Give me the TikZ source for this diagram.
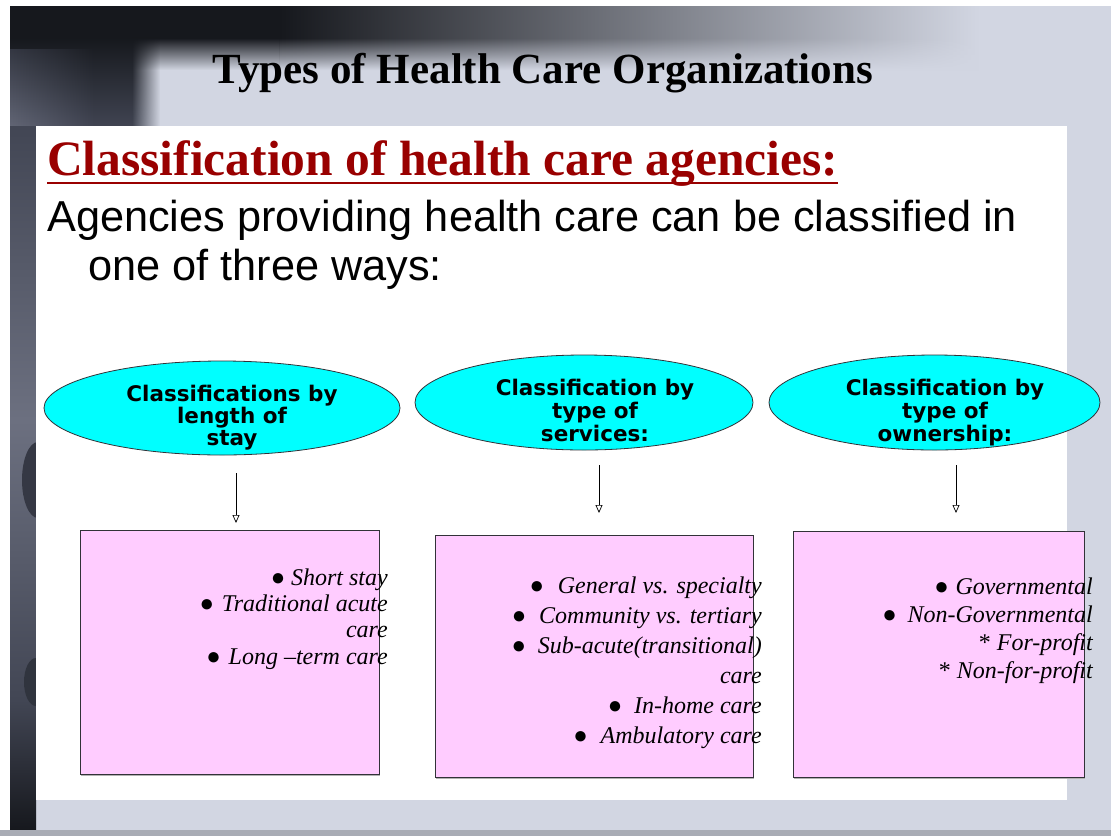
\documentclass[tikz,border=0pt]{standalone}
\usepackage{fontspec}
\setmainfont{Liberation Serif}
\newfontfamily\arialfont{Liberation Sans}
\newfontfamily\verdfont{DejaVu Sans}
\usetikzlibrary{shapes.geometric,arrows.meta,fadings}

\definecolor{slidebg}{RGB}{210,214,226}
\definecolor{darkband}{RGB}{22,24,29}
\definecolor{darkgray2}{RGB}{66,70,84}
\definecolor{stripgray}{RGB}{108,112,128}
\definecolor{bottomband}{RGB}{169,172,181}
\definecolor{headred}{RGB}{153,0,0}
\definecolor{ovalfill}{RGB}{0,255,255}
\definecolor{boxfill}{RGB}{255,204,255}
\definecolor{edgegray}{RGB}{50,50,56}

% soft edges for the blurred backdrop
\tikzfading[name=softdown, top color=transparent!0, bottom color=transparent!100]
\tikzfading[name=softright, left color=transparent!0, right color=transparent!100]

% bullet centred on the current point, followed by a gap of #1
\newcommand\bulgap[1]{\makebox[0pt][c]{\upshape ●}\hspace{#1}}

\tikzset{
  oval/.style={ellipse, draw=edgegray, line width=0.8pt, fill=ovalfill, inner sep=0pt},
  ovaltext/.style={inner sep=0pt, align=center, text=black, anchor=base},
  listbox/.style={draw=edgegray, line width=1pt, fill=boxfill},
  listtext/.style={inner sep=0pt, align=right, anchor=base east},
  downarrow/.style={line width=0.7pt, -{Triangle[open,length=8pt,width=7pt]}},
}

\begin{document}
\begin{tikzpicture}[x=1pt,y=-1pt]
\useasboundingbox (0,0) rectangle (1111,836);

% slide background
\fill[slidebg] (0,0) rectangle (1111,836);
\fill[white] (0,0) rectangle (1111,6);
\fill[white] (0,0) rectangle (10,836);
% dark top band fading to the right, with a soft lower edge
\fill[darkband] (10,6) rectangle (280,38);
\shade[left color=darkband, right color=slidebg] (280,6) rectangle (980,38);
\fill[darkband, path fading=softdown] (130,38) rectangle (280,70);
\shade[left color=darkband, right color=slidebg, path fading=softdown] (280,38) rectangle (980,70);
% dark corner block with a soft right edge
\shade[top color=darkband, bottom color=darkgray2] (10,38) rectangle (132,130);
\shade[top color=darkband, bottom color=darkgray2, path fading=softright] (132,38) rectangle (160,130);
\shade[top color=darkgray2!70!darkband, bottom color=stripgray!80!darkgray2, path fading=softright] (10,50) rectangle (95,130);
% left strip
\shade[top color=darkgray2, bottom color=stripgray] (10,126) rectangle (36,420);
\shade[top color=stripgray, bottom color=darkgray2] (10,420) rectangle (36,700);
\shade[top color=darkgray2, bottom color=darkband] (10,700) rectangle (36,830);
\fill[darkgray2!70!darkband] (38,480) ellipse [x radius=16, y radius=38];
\fill[darkgray2!60!darkband] (36,682) ellipse [x radius=12, y radius=24];
% bottom band
\fill[bottomband] (0,830) rectangle (1111,836);

% white content panel
\fill[white] (36,126) rectangle (1067,800);

% title
\node[anchor=base, inner sep=0pt, font=\bfseries\fontsize{43}{50}\selectfont]
  (title) at (543,83) {Types of Health Care Organizations};

% heading with underline
\node[anchor=base west, inner sep=0pt, text=headred,
      font=\bfseries\fontsize{49.5}{56}\selectfont]
  (head) at (47,175) {Classification of health care agencies:};
\draw[headred, line width=2.6pt] ([yshift=-8pt]head.base west) -- ([yshift=-8pt]head.base east);

% intro text
\node[anchor=base west, inner sep=0pt, font=\arialfont\fontsize{43.3}{48}\selectfont]
  (intro1) at (47,231) {Agencies providing health care can be classified in};
\node[anchor=base west, inner sep=0pt, font=\arialfont\fontsize{43.3}{48}\selectfont]
  (intro2) at (88,280) {one of three ways:};

% ovals
\node[oval, minimum width=356pt, minimum height=94pt] (ovA) at (222,408) {};
\node[oval, minimum width=338pt, minimum height=95pt] (ovB) at (584,402.5) {};
\node[oval, minimum width=331pt, minimum height=95pt] (ovC) at (934.5,402.5) {};

% oval captions (anchored at the baseline of their last line)
\node[ovaltext, font=\verdfont\bfseries\fontsize{21.5}{22}\selectfont] (tA) at (232,445)
  {Classifications by\\length of\\stay};
\node[ovaltext, font=\verdfont\bfseries\fontsize{21.5}{23}\selectfont] (tB) at (595,441)
  {Classification by\\type of\\services:};
\node[ovaltext, font=\verdfont\bfseries\fontsize{21.5}{23}\selectfont] (tC) at (945,441)
  {Classification by\\type of\\ownership:};

% arrows
\coordinate (aA1) at (236,473); \coordinate (aA2) at (236,523);
\coordinate (aB1) at (599,465); \coordinate (aB2) at (599,513);
\coordinate (aC1) at (956,465); \coordinate (aC2) at (956,513);
\draw[downarrow] (aA1) -- (aA2);
\draw[downarrow] (aB1) -- (aB2);
\draw[downarrow] (aC1) -- (aC2);

% boxes with a slight shadow
\fill[gray!60] (81,532) rectangle (380,776);
\fill[gray!60] (436,537) rectangle (754,779);
\fill[gray!60] (794,533) rectangle (1085,779);
\draw[listbox] (80,530) rectangle (379,774);
\draw[listbox] (435,535) rectangle (753,777);
\draw[listbox] (793,531) rectangle (1084,777);

% list texts (anchored at the baseline of their last line)
\node[listtext, font=\itshape\fontsize{24}{26.3}\selectfont] (lA) at (388,664)
  {\bulgap{13pt}Short stay\\
   \bulgap{15pt}Traditional acute\\
   care\\
   \bulgap{15pt}Long –term care};
\node[listtext, font=\itshape\fontsize{24}{30}\selectfont] (lB) at (762,743)
  {\bulgap{21pt}General vs. specialty\\
   \bulgap{20pt}Community vs. tertiary\\
   \bulgap{19pt}Sub-acute(transitional)\\
   care\\
   \bulgap{19pt}In-home care\\
   \bulgap{20pt}Ambulatory care};
\node[listtext, font=\itshape\fontsize{24}{27.8}\selectfont] (lC) at (1093,678)
  {\bulgap{14pt}Governmental\\
   \bulgap{18pt}Non-Governmental\\
   {\upshape *} For-profit\\
   {\upshape *} Non-for-profit};

\end{tikzpicture}
\end{document}
